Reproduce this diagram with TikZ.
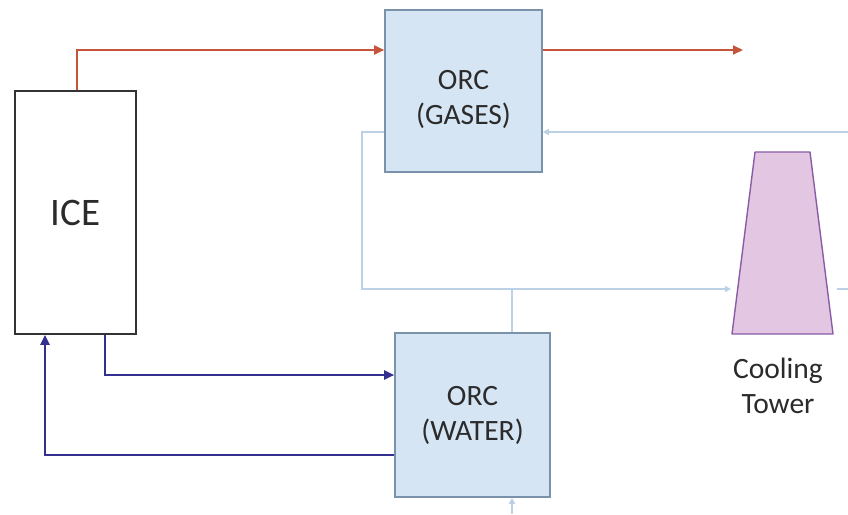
\documentclass[tikz,border=0pt]{standalone}
\usepackage{fontspec}
\setmainfont{Carlito}
\usetikzlibrary{arrows.meta,positioning,calc}
\definecolor{gasred}{HTML}{C4553A}
\definecolor{water}{HTML}{33308F}
\definecolor{cool}{HTML}{BCD0E6}
\definecolor{orcfill}{HTML}{D6E5F4}
\definecolor{orcline}{HTML}{7A93AB}
\definecolor{towfill}{HTML}{E2C6E2}
\definecolor{towline}{HTML}{8A5CA8}
\definecolor{txt}{HTML}{2B2B2B}
\tikzset{orc/.style={draw=orcline,fill=orcfill,line width=1.6pt,inner sep=0pt},
  orctext/.style={align=center,text=txt,font=\fontsize{29.5}{35}\selectfont,inner sep=0pt},
  engine/.style={draw=black!80,fill=white,line width=1.8pt,inner sep=0pt,text=txt,
    font=\fontsize{39}{44}\selectfont},
  hot/.style={line width=1.8pt,draw=gasred,-{Triangle[length=10pt,width=9pt]}},
  loopw/.style={line width=2.2pt,draw=water,-{Triangle[length=10pt,width=9pt]}},
  cw/.style={line width=1.6pt,draw=cool},
  cwa/.style={cw,-{Triangle[length=6pt,width=6pt]}}}
\begin{document}
\begin{tikzpicture}[x=1pt,y=-1pt]
\useasboundingbox[fill=white] (0,0) rectangle (848,514);
\node[engine,minimum width=121pt,minimum height=243pt] (ice) at (75.5,212.5) {ICE};
\node[orc,minimum width=157pt,minimum height=162pt] (orcg) at (463.5,91) {};
\node[orctext] (orcgtxt) at ([yshift=-8pt]orcg.center) {ORC\\(GASES)};
\node[orc,minimum width=155pt,minimum height=164pt] (orcw) at (472.5,415) {};
\node[orctext] (orcwtxt) at (orcw.center) {ORC\\(WATER)};
% cooling tower
\coordinate (tbl) at (732,334);\coordinate (tbr) at (833,334);
\coordinate (ttl) at (755,152);\coordinate (ttr) at (810,152);
\draw[draw=towline,fill=towfill,line width=1.4pt,line join=round] (tbl)--(ttl)--(ttr)--(tbr)--cycle;
\node[orctext] (towlbl) at (778,386) {Cooling\\Tower};
\coordinate (gasout) at (743,50);
\coordinate (cwin) at (848,132);
\coordinate (cwout) at (848,289);
\coordinate (cwbot) at (512,514);
\coordinate (tin) at (731,289);
\coordinate (tout) at (837,289);
\coordinate (split) at (512,289);
% exhaust gases
\draw[hot] ([xshift=1.5pt]ice.north) |- ([yshift=41pt]orcg.west);
\draw[hot] ([yshift=41pt]orcg.east) -- (gasout);
% engine water loop
\draw[loopw] ([xshift=29.5pt]ice.south) |- ([yshift=40pt]orcw.west);
\draw[loopw] ([yshift=-40pt]orcw.west) -| ([xshift=-30.5pt]ice.south);
% cooling water
\draw[cwa] (cwin) -- ([yshift=-41pt]orcg.east);
\draw[cwa] ([yshift=-41pt]orcg.west) -- ++(-22,0) |- (tin);
\draw[cw] (split) -- ([xshift=39.5pt]orcw.north);
\draw[cwa] (cwbot) -- ([xshift=39.5pt]orcw.south);
\draw[cw] (tout) -- (cwout);
\end{tikzpicture}
\end{document}
